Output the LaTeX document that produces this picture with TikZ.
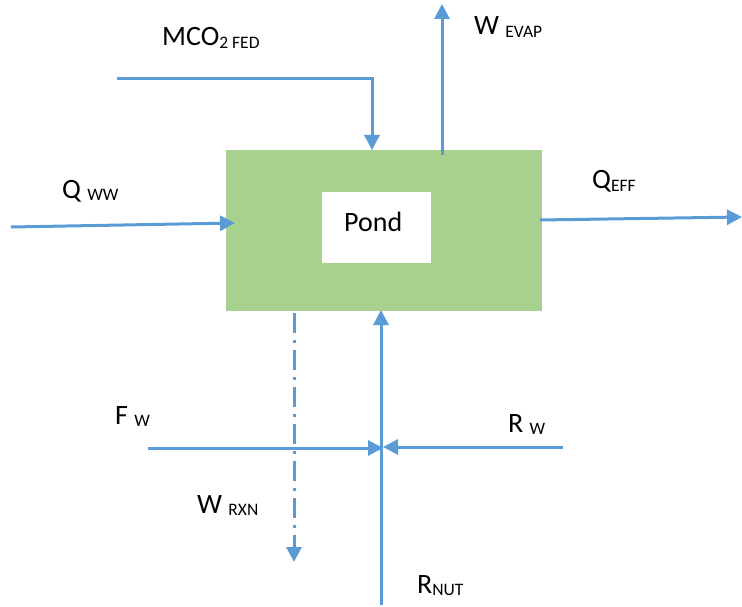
\documentclass[tikz,border=0pt]{standalone}
\usepackage{fontspec}
\setmainfont{Carlito}
\usetikzlibrary{arrows.meta}
\definecolor{flow}{HTML}{5B9BD5}
\definecolor{pondgreen}{HTML}{A9D18E}
\newcommand\subtxt[1]{\raisebox{-2.5pt}{\fontsize{17.5}{18}\selectfont #1}}
\begin{document}
\begin{tikzpicture}[x=1pt,y=-1pt,
  flowline/.style={draw=flow,line width=3pt,-{Triangle[length=15pt,width=15pt]}},
  dashflow/.style={flowline,dash pattern=on 20pt off 7pt on 3pt off 7pt},
  lbl/.style={anchor=base west,inner sep=0pt,font=\fontsize{28}{30}\selectfont}]
\useasboundingbox (0,0) rectangle (742,607);
% pond
\node[fill=pondgreen,minimum width=316pt,minimum height=161pt,inner sep=0pt,anchor=north west] (pond) at (226,150) {};
\node[fill=white,minimum width=109pt,minimum height=71pt,inner sep=0pt,anchor=north west] (box) at (322,192) {};
\node[lbl] (pondtxt) at (344,231) {Pond};
% coordinates
\coordinate (mstart) at (117,79);
\coordinate (mtip) at (372,150);
\coordinate (evs) at (442,155);
\coordinate (evt) at (442,4);
\coordinate (qws) at (11,227);
\coordinate (qwt) at (235,223);
\coordinate (qes) at (540,220);
\coordinate (qet) at (742,217);
\coordinate (rxs) at (294,313);
\coordinate (rxt) at (294,562);
\coordinate (nuts) at (381,605);
\coordinate (nutt) at (381,310);
\coordinate (fws) at (148,448);
\coordinate (fwt) at (383,448);
\coordinate (rws) at (563,447);
\coordinate (rwt) at (383,447);
% connectors
\draw[flowline] (mstart) -| (mtip);
\draw[flowline] (evs) -- (evt);
\draw[flowline] (qws) -- (qwt);
\draw[flowline] (qes) -- (qet);
\draw[dashflow] (rxs) -- (rxt);
\draw[flowline] (nuts) -- (nutt);
\draw[flowline] (fws) -- (fwt);
\draw[flowline] (rws) -- (rwt);
% labels
\node[lbl] (lm) at (162,46) {MCO\subtxt{2 FED}};
\node[lbl] (lev) at (474,35) {W \subtxt{EVAP}};
\node[lbl] (lqw) at (62,198) {Q \subtxt{WW}};
\node[lbl] (lqe) at (592,189) {Q\subtxt{EFF}};
\node[lbl] (lfw) at (115,424) {F \subtxt{W}};
\node[lbl] (lrw) at (508,432) {R \subtxt{W}};
\node[lbl] (lrx) at (197,513) {W \subtxt{RXN}};
\node[lbl] (lnut) at (417,593) {R\subtxt{NUT}};
\end{tikzpicture}
\end{document}
